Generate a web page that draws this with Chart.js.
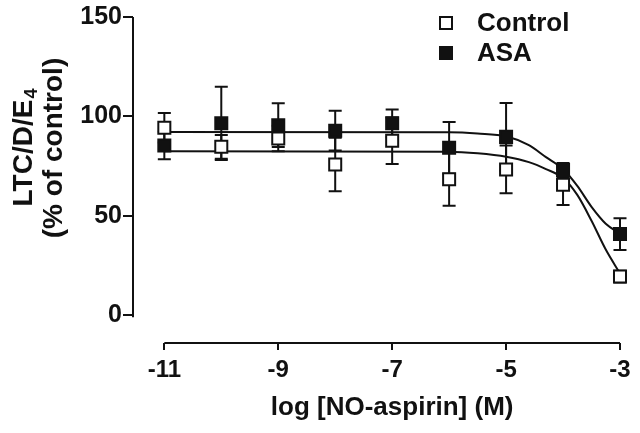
<!DOCTYPE html>
<html>
<head>
<meta charset="utf-8">
<script src="https://cdn.jsdelivr.net/npm/chart.js@4.4.1/dist/chart.umd.min.js"></script>
<style>
  html, body { margin: 0; padding: 0; background: #fff; }
</style>
</head>
<body>
<canvas id="chart" width="640" height="433"></canvas>
<script>
// values (mean and SEM, % of control)
const doses = [-11, -10, -9, -8, -7, -6, -5, -4, -3];
const controlMean = [94.3, 84.7, 88.9, 75.8, 87.7, 68.4, 73.3, 65.6, 19.4];
const controlSem = [7.4, 6, 6.4, 13.4, 11.7, 13.4, 12, 10.2, 3];
const asaMean = [85.4, 96.5, 95.6, 92.8, 96.5, 84.2, 89.7, 73, 40.8];
const asaSem = [7, 18.4, 11, 10, 7, 13, 17, 3.5, 8];

// fitted curves
const fitX = [-11, -6, -5.5, -5, -4.6, -4.3, -4, -3.75, -3.5, -3.25, -3];
const controlFit = [82.5, 82.2, 81.4, 79.7, 77, 73.5, 69, 60.5, 47.5, 33, 21];
const asaFit = [92.2, 92, 91.4, 90, 85.5, 79.5, 73.5, 65, 54.5, 46, 41];

const xTicks = [-11, -9, -7, -5, -3];
const yTicks = [0, 50, 100, 150];

const INK = '#111';
const FONT = "'Liberation Sans', Arial, Helvetica, sans-serif";

Chart.defaults.font.family = FONT;
Chart.defaults.color = INK;

const pts = (xs, ys) => xs.map((x, i) => ({ x, y: ys[i] }));

// error bars, axis lines, titles and legend
const frame = {
  id: 'frame',
  beforeDatasetsDraw(chart) {
    const { ctx, scales: { x, y } } = chart;
    ctx.save();
    ctx.strokeStyle = INK;
    ctx.lineWidth = 2;
    chart.data.datasets.forEach(ds => {
      if (!ds.sem) return;
      ds.data.forEach((p, i) => {
        const px = x.getPixelForValue(p.x);
        const hi = y.getPixelForValue(p.y + ds.sem[i]);
        const lo = y.getPixelForValue(p.y - ds.sem[i]);
        ctx.beginPath();
        ctx.moveTo(px, hi); ctx.lineTo(px, lo);
        ctx.moveTo(px - 6.5, hi); ctx.lineTo(px + 6.5, hi);
        ctx.moveTo(px - 6.5, lo); ctx.lineTo(px + 6.5, lo);
        ctx.stroke();
      });
    });
    ctx.restore();
  },
  afterDraw(chart) {
    const { ctx, chartArea, scales: { x, y } } = chart;
    ctx.save();
    ctx.strokeStyle = INK;
    ctx.fillStyle = INK;
    ctx.lineWidth = 2;

    // offset axes like the original
    ctx.beginPath();
    ctx.moveTo(chartArea.left, y.getPixelForValue(yTicks[yTicks.length - 1]));
    ctx.lineTo(chartArea.left, y.getPixelForValue(yTicks[0]) + 2);
    ctx.moveTo(x.getPixelForValue(xTicks[0]), chartArea.bottom);
    ctx.lineTo(x.getPixelForValue(xTicks[xTicks.length - 1]), chartArea.bottom);
    ctx.stroke();

    // x title
    ctx.font = `bold 26px ${FONT}`;
    ctx.textAlign = 'center';
    ctx.textBaseline = 'alphabetic';
    const xc = (x.getPixelForValue(xTicks[0]) + x.getPixelForValue(xTicks[xTicks.length - 1])) / 2;
    ctx.fillText('log [NO-aspirin] (M)', xc, 415);

    // y title, two rotated lines, E with subscript 4
    ctx.save();
    ctx.translate(32, 148);
    ctx.rotate(-Math.PI / 2);
    ctx.textAlign = 'left';
    ctx.font = `bold 28px ${FONT}`;
    const main = 'LTC/D/E';
    const wMain = ctx.measureText(main).width;
    ctx.font = `bold 18px ${FONT}`;
    const wSub = ctx.measureText('4').width;
    const start = -(wMain + wSub) / 2;
    ctx.font = `bold 28px ${FONT}`;
    ctx.fillText(main, start, 0);
    ctx.font = `bold 18px ${FONT}`;
    ctx.fillText('4', start + wMain + 1, 5);
    ctx.restore();

    ctx.save();
    ctx.translate(62, 148);
    ctx.rotate(-Math.PI / 2);
    ctx.textAlign = 'center';
    ctx.font = `bold 28px ${FONT}`;
    ctx.fillText('(% of control)', 0, 0);
    ctx.restore();

    // legend
    const rows = chart.data.datasets.filter(ds => ds.sem);
    rows.forEach((ds, i) => {
      const cy = 23 + i * 30;
      ctx.fillStyle = ds.backgroundColor;
      ctx.fillRect(440, cy - 6, 12, 12);
      ctx.strokeRect(440, cy - 6, 12, 12);
      ctx.fillStyle = INK;
      ctx.font = `bold 26px ${FONT}`;
      ctx.textAlign = 'left';
      ctx.textBaseline = 'middle';
      ctx.fillText(ds.label, 477, cy + 1);
    });
    ctx.restore();
  }
};

new Chart(document.getElementById('chart'), {
  type: 'scatter',
  data: {
    datasets: [
      {
        label: 'Control', data: pts(doses, controlMean), sem: controlSem,
        pointStyle: 'rect', pointRadius: 8.5, borderWidth: 2,
        borderColor: INK, backgroundColor: '#fff', clip: false, order: 0
      },
      {
        label: 'ASA', data: pts(doses, asaMean), sem: asaSem,
        pointStyle: 'rect', pointRadius: 8.5, borderWidth: 2,
        borderColor: INK, backgroundColor: INK, clip: false, order: 1
      },
      {
        label: 'Control fit', data: pts(fitX, controlFit), showLine: true,
        cubicInterpolationMode: 'monotone', pointRadius: 0, borderWidth: 2,
        borderColor: INK, clip: false, order: 2
      },
      {
        label: 'ASA fit', data: pts(fitX, asaFit), showLine: true,
        cubicInterpolationMode: 'monotone', pointRadius: 0, borderWidth: 2,
        borderColor: INK, clip: false, order: 2
      }
    ]
  },
  options: {
    responsive: false,
    devicePixelRatio: 1,
    animation: false,
    layout: { padding: { top: 17, right: 20, left: 0, bottom: 0 } },
    plugins: { legend: { display: false }, tooltip: { enabled: false } },
    scales: {
      x: {
        type: 'linear', min: -11.55, max: -3,
        afterBuildTicks: s => { s.ticks = xTicks.map(v => ({ value: v })); },
        afterFit: s => { s.height = 90; },
        grid: { drawOnChartArea: false, drawTicks: true, tickLength: 7, color: INK, lineWidth: 2 },
        border: { display: false },
        ticks: { color: INK, font: { size: 24, weight: 'bold' }, padding: 6, maxRotation: 0, callback: v => String(v) }
      },
      y: {
        min: -14, max: 150,
        afterBuildTicks: s => { s.ticks = yTicks.map(v => ({ value: v })); },
        afterFit: s => { s.width = 133; },
        grid: { drawOnChartArea: false, drawTicks: true, tickLength: 10, color: INK, lineWidth: 2 },
        border: { display: false },
        ticks: { color: INK, font: { size: 25, weight: 'bold' }, padding: 1, callback: v => String(v) }
      }
    }
  },
  plugins: [frame]
});
</script>
</body>
</html>
